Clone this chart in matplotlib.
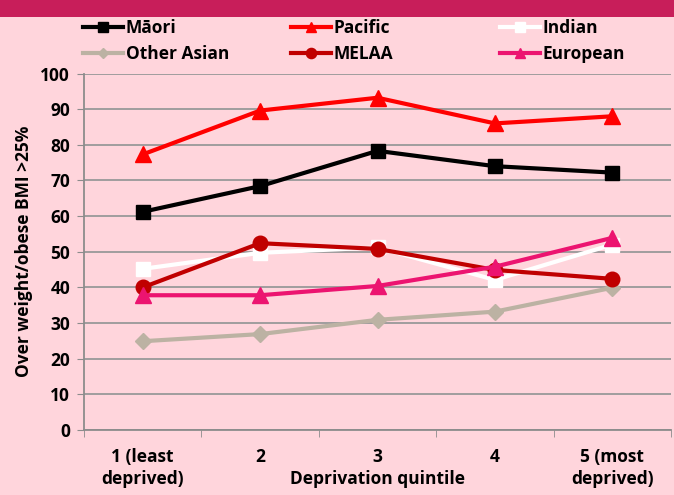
import matplotlib
matplotlib.use("Agg")
import matplotlib.pyplot as plt
from matplotlib.patches import Rectangle

categories = ["1 (least\ndeprived)", "2", "3\nDeprivation quintile", "4", "5 (most\ndeprived)"]
maori = [61.2, 68.4, 78.3, 74.0, 72.2]
pacific = [77.3, 89.6, 93.2, 86.0, 88.0]
indian = [45.2, 49.7, 51.2, 42.1, 52.0]
other_asian = [24.9, 26.9, 30.9, 33.2, 39.9]
melaa = [40.0, 52.4, 50.8, 44.9, 42.4]
european = [37.8, 37.8, 40.4, 45.8, 53.9]
y_ticks = [0, 10, 20, 30, 40, 50, 60, 70, 80, 90, 100]

plt.rcParams['font.family'] = ['Open Sans', 'DejaVu Sans']
plt.rcParams['font.weight'] = 'bold'
fs = 12.5

bg = '#FFD5DC'
fig = plt.figure(figsize=(6.74, 4.95), dpi=100, facecolor=bg)
ax = fig.add_axes([84/674, 1 - 430/495, (671-84)/674, (430-73.5)/495])
ax.set_facecolor(bg)

fig.patches.append(Rectangle((0, 1 - 17/495), 1, 17/495, transform=fig.transFigure,
                             facecolor='#C81E5A', edgecolor='none', zorder=0))

x = list(range(len(categories)))
lw = 3.0
series = [
    ("Māori", maori, '#000000', 's', 9.5),
    ("Pacific", pacific, '#FF0000', '^', 11),
    ("Indian", indian, '#FFFFFF', 's', 9.5),
    ("Other Asian", other_asian, '#BCB2A3', 'D', 8),
    ("MELAA", melaa, '#C00000', 'o', 10.5),
    ("European", european, '#EC1470', '^', 11),
]
handles = {}
for i, (name, vals, col, mk, ms) in enumerate(series):
    h, = ax.plot(x, vals, color=col, lw=lw, marker=mk, markersize=ms,
                 markerfacecolor=col, markeredgecolor=col, label=name, zorder=3 + i)
    handles[i] = h

ax.set_xlim(-0.5, len(categories) - 0.5)
ax.set_ylim(0, 100)
ax.set_yticks(y_ticks)
ax.set_yticklabels([str(v) for v in y_ticks], fontsize=fs, fontweight='bold')
ax.set_xticks(x)
ax.set_xticklabels(categories, fontsize=fs, fontweight='bold', linespacing=1.25)
ax.set_xticks([i - 0.5 for i in range(len(categories) + 1)], minor=True)
ax.tick_params(axis='x', which='major', length=0, pad=13)
ax.tick_params(axis='x', which='minor', length=5, color='#8C8C8C', direction='out')
ax.tick_params(axis='y', length=5, color='#8C8C8C', pad=5)
ax.yaxis.grid(True, color='#999999', lw=1.3)
ax.set_axisbelow(True)
for s in ['top', 'right']:
    ax.spines[s].set_visible(False)
for s in ['left', 'bottom']:
    ax.spines[s].set_color('#8C8C8C')
    ax.spines[s].set_linewidth(1.3)
ax.set_ylabel("Over weight/obese BMI >25%", fontsize=fs, fontweight='bold', labelpad=5)

columns = [(0, 3, 83), (1, 4, 291), (2, 5, 500)]
for a, b, xpix in columns:
    leg = fig.legend([handles[a], handles[b]], [series[a][0], series[b][0]],
                     loc='upper left', bbox_to_anchor=(xpix/674, 1 - 19/495),
                     frameon=False, fontsize=fs, handlelength=2.3, handletextpad=0.15,
                     labelspacing=0.45, borderaxespad=0, borderpad=0,
                     markerscale=0.7)
    for t in leg.get_texts():
        t.set_fontweight('bold')

fig.savefig("out.png", dpi=100, facecolor=bg)
